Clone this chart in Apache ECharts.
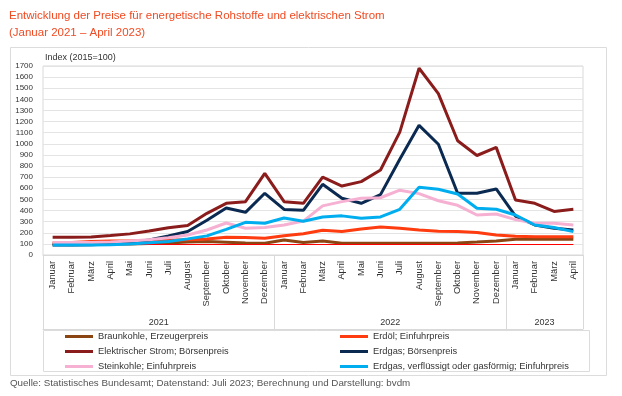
<!DOCTYPE html>
<html>
<head>
<meta charset="utf-8">
<script src="https://cdn.jsdelivr.net/npm/echarts@6/dist/echarts.min.js"></script>
<style>
  html, body { margin: 0; padding: 0; background: #fff; }
  #main { width: 622px; height: 396px; }
</style>
</head>
<body>
<div id="main"></div>
<script>
// Monate je Jahr (Kategorien der x-Achse)
const months2021 = ["Januar", "Februar", "März", "April", "Mai", "Juni", "Juli", "August", "September", "Oktober", "November", "Dezember"];
const months2022 = ["Januar", "Februar", "März", "April", "Mai", "Juni", "Juli", "August", "September", "Oktober", "November", "Dezember"];
const months2023 = ["Januar", "Februar", "März", "April"];
const years = ["2021", "2022", "2023"];
const yTicks = { min: 0, max: 1700, step: 100 };

// Index 2015 = 100
const braunkohle = [98, 98, 98, 99, 100, 103, 108, 118, 122, 115, 108, 106, 135, 112, 126, 106, 105, 105, 105, 105, 105, 108, 116, 125, 141, 142, 142, 142];
const erdoel = [108, 113, 122, 125, 127, 130, 133, 137, 143, 160, 158, 150, 174, 192, 222, 212, 234, 252, 240, 225, 214, 212, 203, 180, 168, 165, 165, 165];
const strom = [160, 160, 162, 175, 190, 215, 245, 265, 375, 465, 480, 735, 480, 465, 700, 620, 660, 765, 1105, 1680, 1452, 1028, 895, 968, 495, 465, 392, 411];
const erdgasBoerse = [90, 90, 92, 98, 112, 135, 172, 212, 312, 422, 384, 555, 410, 402, 636, 510, 465, 543, 862, 1166, 996, 555, 555, 594, 350, 270, 240, 225];
const steinkohle = [112, 112, 113, 118, 125, 137, 155, 180, 225, 288, 240, 247, 270, 305, 442, 480, 510, 515, 583, 552, 488, 447, 360, 369, 318, 285, 285, 270];
const erdgasImport = [90, 90, 90, 92, 100, 110, 122, 145, 172, 231, 294, 285, 333, 303, 342, 352, 330, 342, 411, 610, 591, 549, 420, 412, 360, 270, 248, 210];
const basisWert = 100;

const months = months2021.concat(months2022, months2023);
const groups = [months2021.length, months2022.length, months2023.length];

// Grenzen und Mitten der Jahresgruppen (in Kategorie-Einheiten)
const yearBounds = [-0.5];
const yearCenters = [];
let acc = 0;
groups.forEach((n) => {
  yearCenters.push(acc + n / 2 - 0.5);
  acc += n;
  yearBounds.push(acc - 0.5);
});

const FONT = "'Liberation Sans', Arial, sans-serif";
const GRID = "#d9d9d9";

const seriesDefs = [
  { name: "Braunkohle, Erzeugerpreis", data: braunkohle, color: "#8a4513" },
  { name: "Erdöl; Einfuhrpreis", data: erdoel, color: "#ff3c0f" },
  { name: "Elektrischer Strom; Börsenpreis", data: strom, color: "#8b1c1c" },
  { name: "Erdgas; Börsenpreis", data: erdgasBoerse, color: "#0b2a52" },
  { name: "Steinkohle; Einfuhrpreis", data: steinkohle, color: "#f5b0d2" },
  { name: "Erdgas, verflüssigt oder gasförmig; Einfuhrpreis", data: erdgasImport, color: "#00aeef" },
];

const series = seriesDefs.map((s, i) => {
  const item = {
    name: s.name,
    type: "line",
    data: s.data,
    showSymbol: false,
    symbol: "none",
    lineStyle: { color: s.color, width: 3 },
    itemStyle: { color: s.color },
    z: 2 + i,
  };
  if (i === 0) {
    // rote Basislinie bei 100
    item.markLine = {
      silent: true,
      symbol: "none",
      label: { show: false },
      lineStyle: { color: "#ff0000", width: 1, type: "solid" },
      data: [[{ coord: [0, basisWert] }, { coord: [months.length - 1, basisWert] }]],
    };
  }
  return item;
});

const legendText = { fontFamily: FONT, fontSize: 9.3, color: "#333", lineHeight: 11 };

const option = {
  backgroundColor: "#fff",
  animation: false,
  title: [
    {
      text: "Entwicklung der Preise für energetische Rohstoffe und elektrischen Strom\n(Januar 2021 – April 2023)",
      left: 9,
      top: 7,
      padding: 0,
      textStyle: { fontFamily: FONT, fontSize: 11.5, fontWeight: "normal", color: "#f04b23", lineHeight: 17 },
    },
    {
      text: "Index (2015=100)",
      left: 45,
      top: 53,
      padding: 0,
      textStyle: { fontFamily: FONT, fontSize: 9, fontWeight: "normal", color: "#333" },
    },
    {
      text: "Quelle: Statistisches Bundesamt; Datenstand: Juli 2023; Berechnung und Darstellung: bvdm",
      left: 10,
      top: 378,
      padding: 0,
      textStyle: { fontFamily: FONT, fontSize: 9.8, fontWeight: "normal", color: "#555" },
    },
  ],
  legend: [
    {
      data: [seriesDefs[0].name, seriesDefs[2].name, seriesDefs[4].name],
      orient: "vertical",
      left: 65,
      top: 331,
      padding: 0,
      itemWidth: 28,
      itemHeight: 3,
      itemGap: 4,
      icon: "rect",
      textStyle: legendText,
    },
    {
      data: [seriesDefs[1].name, seriesDefs[3].name, seriesDefs[5].name],
      orient: "vertical",
      left: 340,
      top: 331,
      padding: 0,
      itemWidth: 28,
      itemHeight: 3,
      itemGap: 4,
      icon: "rect",
      textStyle: legendText,
    },
  ],
  grid: {
    left: 43,
    right: 39,
    top: 66,
    bottom: 141,
    show: true,
    borderColor: GRID,
    borderWidth: 1,
  },
  xAxis: [
    {
      type: "category",
      data: months,
      boundaryGap: true,
      axisLine: { lineStyle: { color: GRID } },
      axisTick: { show: false },
      axisLabel: {
        rotate: 90,
        interval: 0,
        margin: 6,
        fontFamily: FONT,
        fontSize: 9.3,
        color: "#333",
      },
    },
    {
      type: "value",
      position: "bottom",
      offset: 74,
      min: -0.5,
      max: months.length - 0.5,
      axisLine: { show: true, lineStyle: { color: GRID } },
      axisTick: {
        show: true,
        inside: true,
        length: 74,
        customValues: yearBounds,
        lineStyle: { color: GRID },
      },
      axisLabel: {
        inside: true,
        margin: 2,
        customValues: yearCenters,
        fontFamily: FONT,
        fontSize: 9,
        color: "#333",
        formatter: (v) => years[yearCenters.indexOf(v)] || "",
      },
      splitLine: { show: false },
    },
  ],
  yAxis: {
    type: "value",
    min: yTicks.min,
    max: yTicks.max,
    interval: yTicks.step,
    axisLine: { show: false },
    axisTick: { show: false },
    splitLine: { lineStyle: { color: "#e4e4e4" } },
    axisLabel: {
      fontFamily: FONT,
      fontSize: 8,
      color: "#333",
      margin: 10,
      formatter: (v) => String(v),
    },
  },
  graphic: [
    {
      type: "rect",
      shape: { x: 10.5, y: 47.5, width: 596, height: 328 },
      style: { fill: "none", stroke: "#dcdcdc", lineWidth: 1 },
      silent: true,
      z: -1,
    },
    {
      type: "rect",
      shape: { x: 43.5, y: 330.5, width: 546, height: 41 },
      style: { fill: "none", stroke: "#dcdcdc", lineWidth: 1 },
      silent: true,
      z: -1,
    },
  ],
  series: series,
};

const chart = echarts.init(document.getElementById("main"), null, { renderer: "canvas" });
chart.setOption(option);
</script>
</body>
</html>
